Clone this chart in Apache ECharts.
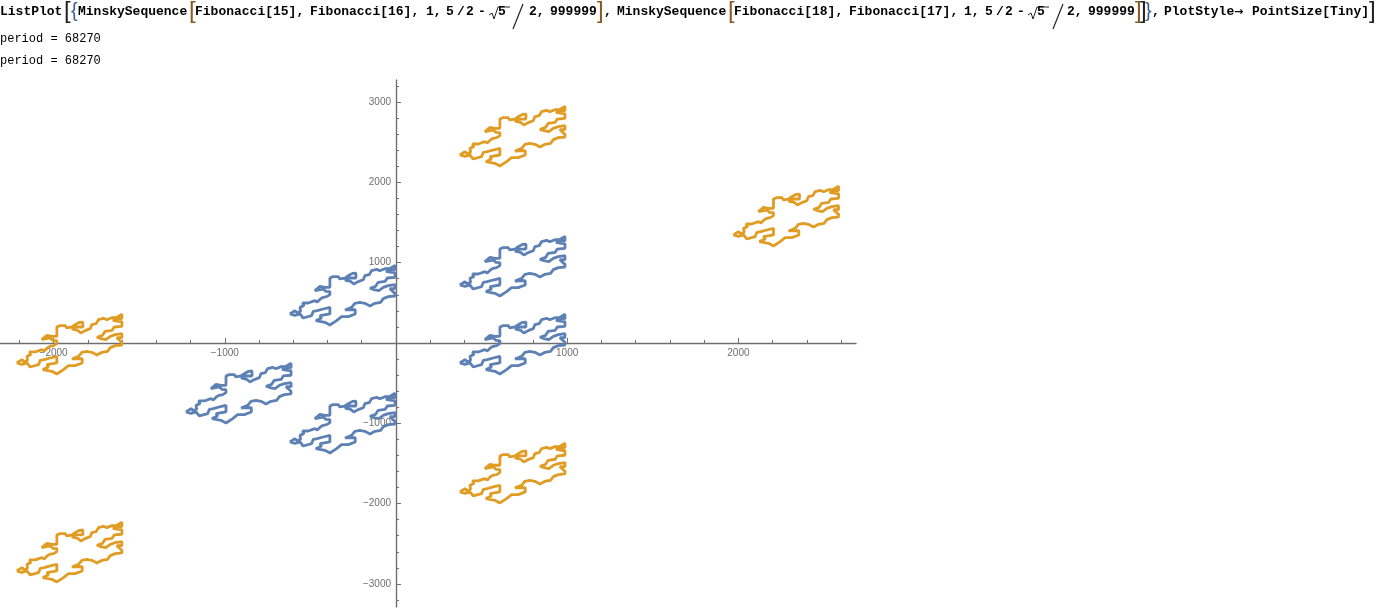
<!DOCTYPE html>
<html><head><meta charset="utf-8">
<style>html,body{margin:0;padding:0;background:#fff}#c{width:1376px;height:609px}</style>
<script src="https://cdn.jsdelivr.net/npm/echarts@6/dist/echarts.min.js"></script>
</head><body><div id="c"></div>
<script>
const xMajor=[-2000,-1000,1000,2000];
const yMajor=[-3000,-2000,-1000,1000,2000,3000];
const xMinor=[-2200,-1800,-1600,-1400,-1200,-800,-600,-400,-200,200,400,600,800,1200,1400,1600,1800,2200,2400,2600];
const yMinor=[-3200,-2800,-2600,-2400,-2200,-1800,-1600,-1400,-1200,-800,-600,-400,-200,200,400,600,800,1200,1400,1600,1800,2200,2400,2600,2800,3200];
const shapeX=[373,403,416,436,432,455,447,480,490,519,533,553,568,588,607,607,584,568,519,535,549,578,607,607,607,626,656,665,695,714,739,759,759,714,695,728,747,772,802,811,837,850,880,899,928,954,987,987,967,934,967,987,987,942,930,889,874,841,870,893,919,948,987,987,957,987,987,948,919,903,870,841,811,782,753,734,695,755,755,714,675,646,607,578,525,558,549,607,607,568,533,510,500,451,432,403,373];
const shapeY=[2341,2382,2358,2374,2424,2445,2478,2478,2499,2507,2490,2532,2549,2557,2582,2619,2623,2652,2632,2660,2685,2673,2673,2723,2789,2806,2806,2777,2789,2818,2847,2851,2789,2789,2764,2748,2714,2744,2768,2818,2831,2880,2897,2880,2905,2905,2947,2893,2893,2872,2860,2856,2798,2789,2748,2735,2685,2661,2640,2632,2673,2694,2706,2656,2656,2598,2565,2557,2532,2486,2474,2441,2474,2486,2474,2424,2391,2395,2341,2308,2308,2258,2204,2237,2258,2291,2320,2341,2424,2403,2382,2374,2320,2291,2341,2324,2341];
const blueOffsetX=[0,0,-993,-1600,-993];
const blueOffsetY=[-1619,-2590,-1980,-3200,-3574];
const orangeOffsetX=[0,1598,0,-2588,-2588];
const orangeOffsetY=[0,-996,-4196,-2590,-5180];
const build=(ox,oy)=>{const d=[];ox.forEach((dx,i)=>{shapeX.forEach((x,j)=>d.push([x+dx,shapeY[j]+oy[i]]));d.push(['-','-']);});return d;};
const AX='#707070',LB='#6e6e6e',MONO='"Liberation Mono",monospace';
const xR={min:-2313,max:2687},yR={min:-3288,max:3275};
const fmt=v=>String(v).replace('-','\u2212');
const axisCommon={type:'value',splitLine:{show:false},axisPointer:{show:false}};
function T(x,y,s,o){o=o||{};return{type:'text',x:x,y:y,silent:true,style:{text:s,fill:o.c||'#000',font:(o.w||'bold')+' '+(o.s||13)+'px '+(o.f||MONO),textVerticalAlign:'middle'}};}
const Y=12,BR='#8a5a1e',BL='#3b5f94';
function big(x,s,c,sz){return T(x,Y-1,s,{c:c||'#222',s:sz||24,w:'normal',f:'"Liberation Sans",sans-serif'});}
function L(pts,c,w){return{type:'polyline',silent:true,shape:{points:pts},style:{stroke:c||'#000',lineWidth:w||1,fill:null}};}
function sq(x){return L([[x,15],[x+3,13],[x+5,19],[x+9,7],[x+21,7]],'#222',1);}
const gfx=[
 T(0,Y,'ListPlot'),big(64,'[','#222'),big(71,'{',BL,20),T(78,Y,'MinskySequence'),big(189,'[',BR),
 T(195,Y,'Fibonacci[15],'),T(310,Y,'Fibonacci[16],'),T(426,Y,'1,'),T(446,Y,'5'),T(457,Y,'/'),T(466,Y,'2'),T(478,Y,'-'),
 sq(489),T(498,Y,'5'),L([[513,29],[523,4]],'#222',1.2),T(529,Y,'2,'),T(550,Y,'999999'),big(597,']',BR),T(604,Y,','),
 T(617,Y,'MinskySequence'),big(728,'[',BR),
 T(734,Y,'Fibonacci[18],'),T(849,Y,'Fibonacci[17],'),T(964,Y,'1,'),T(985,Y,'5'),T(996,Y,'/'),T(1005,Y,'2'),T(1017,Y,'-'),
 sq(1028),T(1037,Y,'5'),L([[1053,29],[1063,4]],'#222',1.2),T(1067,Y,'2,'),T(1088,Y,'999999'),big(1135,']',BR),big(1140,']','#222'),big(1145,'}',BL,20),T(1152,Y,','),
 T(1164,Y,'PlotStyle'),T(1234,Y,'\u2192',{s:11,f:'"DejaVu Sans",sans-serif'}),T(1252,Y,'PointSize[Tiny]'),big(1369,']','#222'),
 T(0,39,'period = 68270',{w:'normal',s:12}),T(0,61,'period = 68270',{w:'normal',s:12})
];
const labelStyle={formatter:fmt,color:LB,fontSize:10,fontFamily:'"Liberation Sans",sans-serif',margin:5};
const chart=echarts.init(document.getElementById('c'),null,{renderer:'canvas'});
chart.setOption({
 animation:false,backgroundColor:'#fff',
 grid:{left:0,top:80,width:856,height:527,containLabel:false,outerBoundsMode:'none'},
 xAxis:[
  Object.assign({},axisCommon,xR,{position:'bottom',axisLine:{onZero:true,lineStyle:{color:AX,width:1.4}},
   axisTick:{inside:true,length:5,customValues:xMajor,lineStyle:{color:AX}},axisLabel:{show:false}}),
  Object.assign({},axisCommon,xR,{position:'bottom',axisLine:{show:false,onZero:true},
   axisTick:{inside:true,length:3,customValues:xMinor,lineStyle:{color:AX}},axisLabel:{show:false}}),
  Object.assign({},axisCommon,xR,{position:'bottom',offset:-264,axisLine:{show:false,onZero:false},axisTick:{show:false},
   axisLabel:Object.assign({customValues:xMajor},labelStyle)})
 ],
 yAxis:[
  Object.assign({},axisCommon,yR,{position:'left',axisLine:{onZero:true,lineStyle:{color:AX,width:1.4}},
   axisTick:{inside:true,length:5,customValues:yMajor,lineStyle:{color:AX}},axisLabel:{show:false}}),
  Object.assign({},axisCommon,yR,{position:'left',axisLine:{show:false,onZero:true},
   axisTick:{inside:true,length:3,customValues:yMinor,lineStyle:{color:AX}},axisLabel:{show:false}}),
  Object.assign({},axisCommon,yR,{position:'left',offset:-396,axisLine:{show:false,onZero:false},axisTick:{show:false},
   axisLabel:Object.assign({customValues:yMajor},labelStyle)})
 ],
 graphic:gfx,
 series:[
  {name:'a',type:'line',xAxisIndex:0,yAxisIndex:0,data:build(blueOffsetX,blueOffsetY),showSymbol:false,silent:true,connectNulls:false,lineStyle:{color:'#5E81B5',width:2.8,join:'bevel'},z:3},
  {name:'b',type:'line',xAxisIndex:0,yAxisIndex:0,data:build(orangeOffsetX,orangeOffsetY),showSymbol:false,silent:true,connectNulls:false,lineStyle:{color:'#E19C24',width:2.8,join:'bevel'},z:3}
 ]
});
</script></body></html>
